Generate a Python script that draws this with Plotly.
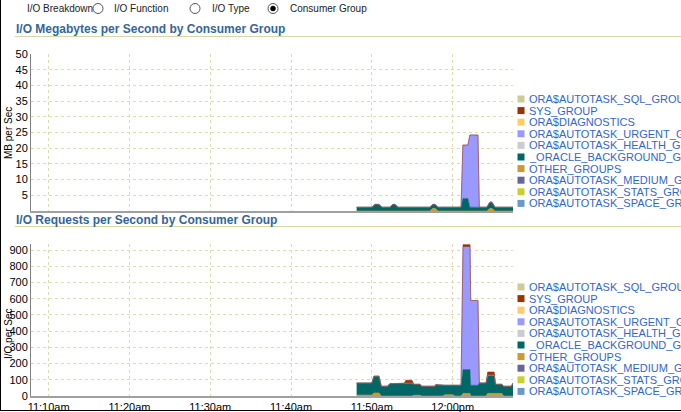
import plotly.graph_objects as go

DAY = "2024-01-01 "

# ---------------- data ----------------
legend_names = ["ORA$AUTOTASK_SQL_GROUP", "SYS_GROUP", "ORA$DIAGNOSTICS",
                "ORA$AUTOTASK_URGENT_GROUP", "ORA$AUTOTASK_HEALTH_GROUP",
                "_ORACLE_BACKGROUND_GROUP_", "OTHER_GROUPS",
                "ORA$AUTOTASK_MEDIUM_GROUP", "ORA$AUTOTASK_STATS_GROUP",
                "ORA$AUTOTASK_SPACE_GROUP"]
legend_colors = ["#CCCC99", "#993300", "#FFCC66", "#9999FF", "#CCCCCC",
                 "#006666", "#CC9933", "#666699", "#CCCC33", "#6699CC"]

x_tick_times = ["11:10:00", "11:20:00", "11:30:00", "11:40:00", "11:50:00", "12:00:00"]
x_tick_labels = ["11:10am", "11:20am", "11:30am", "11:40am", "11:50am", "12:00pm"]
x_range = ["11:07:49", "12:07:28"]

mb_ticks = [5, 10, 15, 20, 25, 30, 35, 40, 45, 50]
io_ticks = [0, 100, 200, 300, 400, 500, 600, 700, 800, 900]

# MB per second
mb_times = ["11:48:07", "11:50:01", "11:50:23", "11:50:53", "11:51:15", "11:52:14",
            "11:52:36", "11:52:52", "11:53:14", "11:57:11", "11:57:33", "11:57:49",
            "11:58:11", "12:01:02", "12:01:16", "12:01:53", "12:02:08", "12:03:08",
            "12:03:18", "12:04:14", "12:04:36", "12:04:52", "12:05:14", "12:07:28"]
mb_other = [0, 0, 0, 0, 0, 0, 0, 0, 0, 0, 0.85, 0.85,
            0, 0, 0, 0, 0, 0, 0, 0, 0.8, 0.8, 0, 0]
mb_background = [1.2, 1.2, 2.1, 2.1, 1.2, 1.2, 2.1, 2.1, 1.2, 1.2, 1.25, 1.25,
                 1.2, 1.2, 4.0, 4.0, 1.2, 1.2, 1.2, 1.2, 2.0, 2.0, 1.2, 1.2]
mb_urgent = [0, 0, 0, 0, 0, 0, 0, 0, 0, 0, 0, 0,
             0, 0, 17.0, 17.0, 23.0, 23.0, 0, 0, 0, 0, 0, 0]
mb_sys = [0] * 24

# I/O requests per second
io_times = ["11:48:07", "11:50:00", "11:50:15", "11:50:53", "11:51:10", "11:51:56",
            "11:52:14", "11:53:58", "11:54:13", "11:54:57", "11:55:12", "11:55:56",
            "11:56:11", "11:57:48", "11:57:55", "11:58:47", "11:59:02", "12:00:02",
            "12:00:17", "12:01:02", "12:01:17", "12:02:09", "12:02:14", "12:03:08",
            "12:03:18", "12:04:08", "12:04:20", "12:05:08", "12:05:18", "12:06:06",
            "12:06:17", "12:07:16", "12:07:28"]
io_other = [6, 6, 19, 19, 0, 0, 0, 0, 0, 0, 5, 5,
            0, 0, 0, 0, 8, 8, 0, 0, 16, 16, 0, 0,
            0, 0, 16, 16, 16, 16, 0, 0, 0]
io_background = [74, 74, 103, 103, 60, 60, 76, 76, 80, 80, 67, 67,
                 60, 60, 70, 66, 58, 58, 66, 66, 147, 147, 66, 66,
                 80, 80, 112, 112, 56, 56, 60, 60, 80]
io_urgent = [0, 0, 0, 0, 0, 0, 0, 0, 0, 0, 0, 0,
             0, 0, 0, 0, 0, 0, 0, 0, 755, 755, 523, 523,
             0, 0, 0, 0, 0, 0, 0, 0, 0]
io_sys = [0, 0, 0, 0, 0, 0, 0, 0, 17, 17, 0, 0,
          0, 0, 0, 0, 0, 0, 0, 0, 15, 15, 0, 0,
          0, 0, 20, 20, 0, 0, 0, 0, 0]

# ---------------- geometry ----------------
W, H = 681, 412
ML, MR, MT, MB = 31, 168, 54, 16
PW = W - ML - MR
PH = H - MT - MB


def px(x):
    return (x - ML) / PW


def py(y):
    return (H - MB - y) / PH


FONT = "Liberation Sans, Arial, sans-serif"
BLUE = "#3366CC"
TITLE = "#336699"
GRID = "#DCDCB0"

fig = go.Figure()


def add_stack(times, series, xa, ya, group):
    xs = [DAY + t for t in times]
    for name, vals in series:
        color = legend_colors[legend_names.index(name)]
        fig.add_trace(go.Scatter(
            x=xs, y=vals, name=name, mode="lines", stackgroup=group,
            line=dict(width=0.6, color=color), fillcolor=color,
            xaxis=xa, yaxis=ya, showlegend=False, hoverinfo="skip"))


add_stack(mb_times, [("OTHER_GROUPS", mb_other),
                     ("_ORACLE_BACKGROUND_GROUP_", mb_background),
                     ("ORA$AUTOTASK_URGENT_GROUP", mb_urgent),
                     ("SYS_GROUP", mb_sys)], "x", "y", "mb")
add_stack(io_times, [("OTHER_GROUPS", io_other),
                     ("_ORACLE_BACKGROUND_GROUP_", io_background),
                     ("ORA$AUTOTASK_URGENT_GROUP", io_urgent),
                     ("SYS_GROUP", io_sys)], "x2", "y2", "io")

xcommon = dict(
    type="date", range=[DAY + t for t in x_range],
    tickvals=[DAY + t for t in x_tick_times], ticktext=x_tick_labels,
    showgrid=True, gridcolor=GRID, griddash="dot", gridwidth=1,
    showline=True, linecolor="#A0A0A0", linewidth=2, ticks="",
    zeroline=False, automargin=False,
    tickfont=dict(family=FONT, size=11, color="#000000"),
)
ycommon = dict(
    showgrid=True, gridcolor=GRID, griddash="dot", gridwidth=1,
    showline=True, linecolor="#808080", linewidth=1, ticks="",
    zeroline=False, automargin=False,
    tickfont=dict(family=FONT, size=11, color="#000000"),
)

fig.update_layout(
    template="none",
    width=W, height=H, autosize=False,
    margin=dict(l=ML, r=MR, t=MT, b=MB, pad=0),
    paper_bgcolor="white", plot_bgcolor="white",
    font=dict(family=FONT, size=11, color="#000000"),
    showlegend=False,
    xaxis=dict(xcommon, domain=[0, 1], anchor="y", showticklabels=False),
    xaxis2=dict(xcommon, domain=[0, 1], anchor="y2", showticklabels=True),
    yaxis=dict(ycommon, domain=[py(211), 1], range=[0, 50], tickvals=mb_ticks, anchor="x"),
    yaxis2=dict(ycommon, domain=[0, py(244)], range=[0, 937], tickvals=io_ticks, anchor="x2"),
)

annotations = []
shapes = []

# radio row
radio_labels = [("I/O Breakdown", 25), ("I/O Function", 112), ("I/O Type", 210), ("Consumer Group", 288)]
for text, x in radio_labels:
    annotations.append(dict(text=text, x=px(x), y=py(8.5), xref="paper", yref="paper",
                            xanchor="left", yanchor="middle", showarrow=False,
                            font=dict(family=FONT, size=10, color="#222222")))
for cx, filled in [(98, False), (195, False), (273, True)]:
    shapes.append(dict(type="circle", xref="paper", yref="paper",
                       x0=px(cx - 5), x1=px(cx + 5), y0=py(8.5 + 5), y1=py(8.5 - 5),
                       line=dict(color="#555555", width=1), fillcolor="white"))
    if filled:
        shapes.append(dict(type="circle", xref="paper", yref="paper",
                           x0=px(cx - 2.5), x1=px(cx + 2.5), y0=py(8.5 + 2.5), y1=py(8.5 - 2.5),
                           line=dict(color="#000000", width=0.5), fillcolor="#000000"))

# chart titles with underline
for text, ty, uy in [("I/O Megabytes per Second by Consumer Group", 29.5, 36.5),
                     ("I/O Requests per Second by Consumer Group", 219.5, 226.5)]:
    annotations.append(dict(text="<b>" + text + "</b>", x=px(14), y=py(ty), xref="paper", yref="paper",
                            xanchor="left", yanchor="middle", showarrow=False,
                            font=dict(family=FONT, size=12, color=TITLE)))
    shapes.append(dict(type="line", xref="paper", yref="paper",
                       x0=px(15), x1=px(W), y0=py(uy), y1=py(uy),
                       line=dict(color="#D6D6A8", width=1)))

# y axis titles
for text, cy in [("MB per Sec", 133), ("I/O per Sec", 334)]:
    annotations.append(dict(text=text, x=px(8), y=py(cy), xref="paper", yref="paper",
                            xanchor="center", yanchor="middle", textangle=-90, showarrow=False,
                            font=dict(family=FONT, size=10, color="#000000")))

# legends
for y0 in (99, 287):
    for i, (name, color) in enumerate(zip(legend_names, legend_colors)):
        yc = y0 + 11.6 * i
        shapes.append(dict(type="rect", xref="paper", yref="paper",
                           x0=px(517.5), x1=px(524.5), y0=py(yc + 3.5), y1=py(yc - 3.5),
                           line=dict(width=0), fillcolor=color))
        annotations.append(dict(text=name, x=px(526.5), y=py(yc), xref="paper", yref="paper",
                                xanchor="left", yanchor="middle", showarrow=False,
                                font=dict(family=FONT, size=11, color=BLUE)))

# frame lines (left and bottom)
shapes.append(dict(type="line", xref="paper", yref="paper",
                   x0=px(0.5), x1=px(0.5), y0=py(0), y1=py(411), line=dict(color="#000000", width=1)))
shapes.append(dict(type="line", xref="paper", yref="paper",
                   x0=px(0), x1=px(W), y0=py(410.5), y1=py(410.5), line=dict(color="#000000", width=1)))

fig.update_layout(annotations=annotations, shapes=shapes)

fig.write_html("out.html", config={"displayModeBar": False},
               post_script="document.body.style.margin='0';")
